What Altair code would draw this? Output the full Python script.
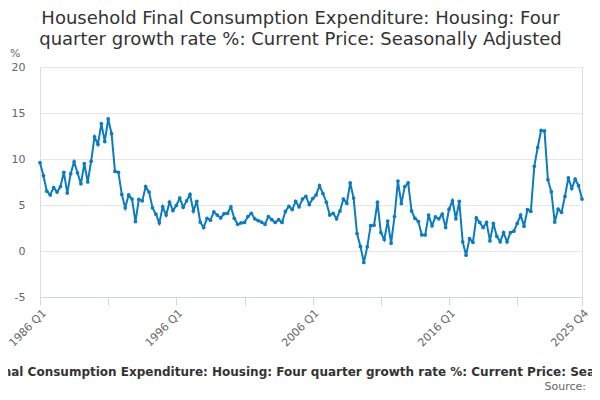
import altair as alt
import pandas as pd

# ---- data -------------------------------------------------------------
years = list(range(1986, 2026))
quarters = [f"{y} Q{q}" for y in years for q in (1, 2, 3, 4)]

growth = [
    9.6, 8.2, 6.5, 6.1, 6.9, 6.4, 7.0, 8.55, 6.3, 8.4,
    9.7, 8.5, 7.3, 9.5, 7.5, 9.75, 12.4, 11.6, 13.85, 11.9,
    14.35, 12.75, 8.65, 8.55, 6.15, 4.7, 6.1, 5.65, 3.2, 5.6,
    5.45, 7.0, 6.4, 4.7, 4.0, 3.05, 4.8, 3.9, 5.3, 4.4,
    4.95, 5.75, 4.75, 5.45, 6.15, 4.35, 5.4, 3.15, 2.55, 3.55,
    3.35, 4.25, 3.9, 3.6, 4.05, 4.1, 4.8, 3.55, 2.9, 3.05,
    3.1, 3.75, 4.1, 3.5, 3.3, 3.15, 2.9, 3.75, 3.4, 3.1,
    3.4, 3.1, 4.3, 4.85, 4.5, 5.4, 4.8, 5.65, 5.95, 5.05,
    5.7, 6.1, 7.1, 6.25, 5.3, 3.9, 4.1, 3.5, 4.35, 5.65,
    5.2, 7.4, 5.75, 1.9, 0.5, -1.25, 0.45, 2.75, 2.8, 5.3,
    2.0, 1.25, 3.25, 0.85, 3.75, 7.6, 5.15, 7.0, 7.4, 4.35,
    3.55, 3.2, 1.75, 1.75, 3.9, 2.75, 3.7, 3.5, 4.0, 2.55,
    4.55, 5.45, 3.5, 5.4, 1.0, -0.45, 1.35, 0.95, 3.6, 3.1,
    2.55, 3.1, 1.1, 3.0, 1.6, 1.0, 2.0, 1.0, 2.0, 2.15,
    3.0, 3.9, 2.7, 4.5, 4.3, 9.2, 11.25, 13.1, 13.05, 7.75,
    6.45, 3.15, 4.55, 4.2, 5.95, 7.95, 6.8, 7.8, 7.1, 5.65,
]

tick_positions = [0, 10, 20, 30, 40, 50, 60, 70, 80, 90, 100, 110, 120, 130, 140, 150, 159]
label_positions = [0, 40, 80, 120, 159]
y_ticks = [-5, 0, 5, 10, 15, 20]

title_lines = [
    "Household Final Consumption Expenditure: Housing: Four",
    "quarter growth rate %: Current Price: Seasonally Adjusted",
]
caption = ("Household Final Consumption Expenditure: Housing: Four quarter growth "
           "rate %: Current Price: Seasonally Adjusted")
source = "Source:"
unit = "%"

df = pd.DataFrame({"i": list(range(len(growth))), "quarter": quarters[:len(growth)], "value": growth})

label_map = {p: quarters[p] for p in label_positions}
label_expr = " : ".join(
    [f"datum.value == {p} ? '{t}'" for p, t in label_map.items()] + ["''"]
)

FONT = "DejaVu Sans"
LINE = "#0c7bc0"
W, H = 542, 230

x_enc = alt.X(
    "i:Q",
    scale=alt.Scale(domain=[0, len(growth) - 1], nice=False, zero=False),
    axis=alt.Axis(
        values=tick_positions,
        labelExpr=label_expr,
        labelAngle=-45,
        labelAlign="right",
        labelBaseline="top",
        labelFont=FONT,
        labelFontSize=11,
        labelColor="#666666",
        labelPadding=2,
        labelOverlap=False,
        labelFlush=False,
        domainColor="#ccd6eb",
        tickColor="#ccd6eb",
        tickSize=8,
        grid=False,
        title=None,
    ),
)
y_enc = alt.Y(
    "value:Q",
    scale=alt.Scale(domain=[-5, 20], nice=False, zero=False),
    axis=alt.Axis(
        values=y_ticks,
        labelExpr="'' + datum.value",
        labelFont=FONT,
        labelFontSize=11,
        labelColor="#666666",
        labelPadding=15,
        tickSize=0,
        domain=False,
        gridColor="#e6e6e6",
        title=None,
    ),
)

base = alt.Chart(df)
line = base.mark_line(color=LINE, strokeWidth=2).encode(x=x_enc, y=y_enc)
pts = base.mark_point(color=LINE, filled=True, size=14, opacity=1).encode(x="i:Q", y="value:Q")


def txt(text, x, y, size, color, align="center", weight="normal"):
    return alt.Chart(pd.DataFrame({"t": [text]})).mark_text(
        font=FONT, fontSize=size, color=color, align=align, baseline="alphabetic",
        fontWeight=weight,
    ).encode(x=alt.value(x), y=alt.value(y), text="t:N")


t1 = txt(title_lines[0], 260.5, -43.5, 18, "#333333")
t2 = txt(title_lines[1], 260.5, -22.5, 18, "#333333")
tu = txt(unit, -30, -10, 11, "#666666", align="left")
tc = txt(caption, 271, 309, 12, "#333333", weight="bold")
ts = txt(source, 546, 323, 11, "#666666", align="right")

chart = alt.layer(line, pts, t1, t2, tu, tc, ts).properties(
    width=W,
    height=H,
    padding={"left": 32, "top": 59, "right": 10, "bottom": 95},
    autosize=alt.AutoSizeParams(type="none"),
).configure_view(stroke=None).configure(background="white")

chart.save("out.html", embed_options={"renderer": "svg", "actions": False})
